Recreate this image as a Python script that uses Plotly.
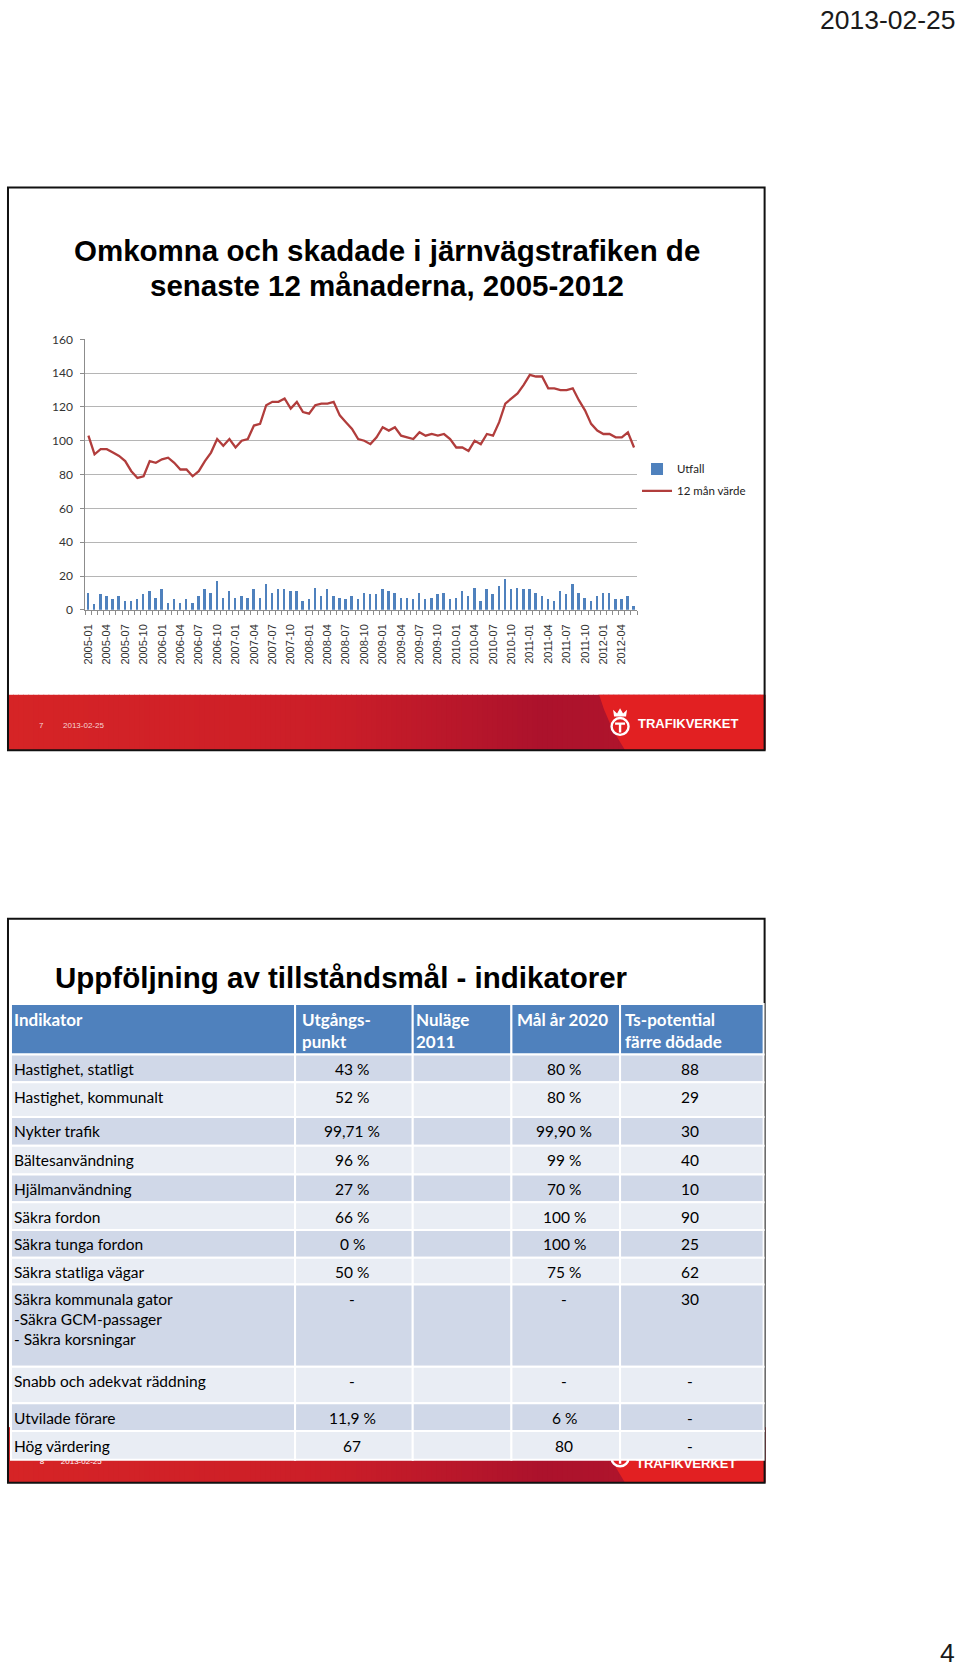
import plotly.graph_objects as go

W, H = 960, 1672

# ---------------- chart data (slide 1) ----------------
months = [f"{y}-{m:02d}" for y in range(2005, 2013) for m in range(1, 13)][:90]
utfall = [10, 3, 9, 8, 6, 8, 5, 5, 6, 9,
          11, 7, 12, 4, 6, 4, 6, 4, 8, 12,
          10, 17, 7, 11, 7, 8, 7, 12, 7, 15,
          10, 12, 12, 11, 11, 5, 6, 13, 8, 12,
          8, 7, 6, 8, 6, 10, 9, 9, 12, 11,
          10, 7, 7, 6, 10, 6, 7, 9, 10, 6,
          7, 11, 8, 13, 5, 12, 9, 14, 18, 12,
          13, 12, 12, 10, 8, 6, 5, 11, 9, 15,
          10, 7, 5, 8, 10, 10, 6, 6, 8, 2]
man12 = [103, 92, 95, 95, 93, 91, 88, 82, 78, 79,
         88, 87, 89, 90, 87, 83, 83, 79, 82, 88,
         93, 101, 97, 101, 96, 100, 101, 109, 110, 121,
         123, 123, 125, 119, 123, 117, 116, 121, 122, 122,
         123, 115, 111, 107, 101, 100, 98, 102, 108, 106,
         108, 103, 102, 101, 105, 103, 104, 103, 104, 101,
         96, 96, 94, 100, 98, 104, 103, 111, 122, 125,
         128, 133, 139, 138, 138, 131, 131, 130, 130, 131,
         124, 118, 110, 106, 104, 104, 102, 102, 105, 96]
tick_labels = months[::3]

# ---------------- table data (slide 2) ----------------
headers = ["Indikator", "Utgångs-<br>punkt", "Nuläge<br>2011", "Mål år 2020", "Ts-potential<br>färre dödade"]
indikator = ["Hastighet, statligt", "Hastighet, kommunalt", "Nykter trafik", "Bältesanvändning",
             "Hjälmanvändning", "Säkra fordon", "Säkra tunga fordon", "Säkra statliga vägar",
             "Säkra kommunala gator<br>-Säkra GCM-passager<br>- Säkra korsningar",
             "Snabb och adekvat räddning", "Utvilade förare", "Hög värdering"]
utgangspunkt = ["43 %", "52 %", "99,71 %", "96 %", "27 %", "66 %", "0 %", "50 %", "-", "-", "11,9 %", "67"]
nulage_2011 = ["", "", "", "", "", "", "", "", "", "", "", ""]
mal_2020 = ["80 %", "80 %", "99,90 %", "99 %", "70 %", "100 %", "100 %", "75 %", "-", "-", "6 %", "80"]
ts_potential = ["88", "29", "30", "40", "10", "90", "25", "62", "30", "-", "-", "-"]
table_cols = [indikator, utgangspunkt, nulage_2011, mal_2020, ts_potential]

# ---------------- layout constants (pixels) ----------------
col_edges = [8, 293, 411, 510, 619, 763]
row_edges = [1005, 1056, 1084, 1119, 1148, 1177, 1205, 1233, 1261, 1288, 1371, 1408, 1436, 1465]
header_left_pad = [1, 5, 1, 4, 3]


def px(x):
    return x / W


def py(y):
    return 1 - y / H


shapes = []
annotations = []


def rect(x0, y0, x1, y1, fill, line_color=None, line_width=0, layer="below"):
    shapes.append(dict(type="rect", xref="paper", yref="paper",
                       x0=px(x0), x1=px(x1), y0=py(y1), y1=py(y0),
                       fillcolor=fill, layer=layer,
                       line=dict(color=line_color or fill, width=line_width)))


def text(t, x, y, size, color="black", family="Liberation Sans", bold=False,
         xanchor="left", yanchor="middle"):
    if bold:
        t = f"<b>{t}</b>"
    annotations.append(dict(text=t, x=px(x), y=py(y), xref="paper", yref="paper",
                            xanchor=xanchor, yanchor=yanchor, showarrow=False,
                            align="left" if xanchor == "left" else "center",
                            font=dict(size=size, color=color, family=family)))


def lerp(c0, c1, t):
    return tuple(int(round(a + (b - a) * t)) for a, b in zip(c0, c1))


grad_stops = [(5, (214, 36, 38)), (330, (203, 30, 40)), (540, (172, 18, 44)),
              (620, (175, 20, 44)), (764, (190, 24, 42))]


def footer_band(y0, y1):
    n = 150
    x_start, x_end = 5, 764
    step = (x_end - x_start) / n
    for i in range(n):
        xa = x_start + i * step
        xm = xa + step / 2
        for (s0, c0), (s1, c1) in zip(grad_stops[:-1], grad_stops[1:]):
            if s0 <= xm <= s1:
                col = lerp(c0, c1, (xm - s0) / (s1 - s0))
                break
        rect(xa, y0, xa + step + 1.0, y1, "rgb(%d,%d,%d)" % col)
    # bright curved section on the right
    xa, xb = 598, 764
    shapes.append(dict(type="path", xref="paper", yref="paper", layer="below",
                       path=f"M {px(xa)},{py(y0)} Q {px(xa + 8)},{py((y0 + y1) / 2)} {px(xa + 26)},{py(y1)} "
                            f"L {px(xb)},{py(y1)} L {px(xb)},{py(y0)} Z",
                       fillcolor="rgb(226,32,34)", line=dict(width=0)))


def logo(cx, cy):
    shapes.append(dict(type="circle", xref="paper", yref="paper", layer="below",
                       x0=px(cx - 8.5), x1=px(cx + 8.5), y0=py(cy + 8.5), y1=py(cy - 8.5),
                       line=dict(color="white", width=2.4), fillcolor="rgba(0,0,0,0)"))
    shapes.append(dict(type="path", xref="paper", yref="paper", layer="below",
                       path=f"M {px(cx-5)},{py(cy-4)} L {px(cx+5)},{py(cy-4)} L {px(cx+5)},{py(cy-1.8)} "
                            f"L {px(cx+1.2)},{py(cy-1.8)} L {px(cx+1.2)},{py(cy+6)} L {px(cx-1.2)},{py(cy+6)} "
                            f"L {px(cx-1.2)},{py(cy-1.8)} L {px(cx-5)},{py(cy-1.8)} Z",
                       fillcolor="white", line=dict(width=0)))
    shapes.append(dict(type="path", xref="paper", yref="paper", layer="below",
                       path=f"M {px(cx-6)},{py(cy-10)} L {px(cx-7)},{py(cy-17)} L {px(cx-3)},{py(cy-13)} "
                            f"L {px(cx)},{py(cy-18.5)} L {px(cx+3)},{py(cy-13)} L {px(cx+7)},{py(cy-17)} "
                            f"L {px(cx+6)},{py(cy-10)} Z",
                       fillcolor="white", line=dict(width=0)))


# ---------------- slide 1 ----------------
footer_band(693, 749)
logo(619, 725)
rect(5, 181, 764, 749, "rgba(0,0,0,0)", "#111111", 2)
text("Omkomna och skadade i järnvägstrafiken de", 385.6, 245, 29.5, bold=True, xanchor="center")
text("senaste 12 månaderna, 2005-2012", 385.6, 280.5, 29.5, bold=True, xanchor="center")
text("7", 39, 724, 8, color="#F6D6D6", xanchor="center")
text("2013-02-25", 58, 724, 8, color="#F6D6D6")
text("TRAFIKVERKET", 635, 722, 13, color="white", family="Liberation Sans", bold=True)

# ---------------- slide 2 ----------------
footer_band(1432, 1488)
logo(619, 1463)
rect(5, 919, 764, 1488, "rgba(0,0,0,0)", "#111111", 2)
text("Uppföljning av tillståndsmål - indikatorer", 50, 978, 29.5, bold=True)

body_fs = 15.5
head_fs = 17
tfam = "Lato, Carlito, Liberation Sans"
for c in range(5):
    x0, x1 = col_edges[c], col_edges[c + 1]
    rect(x0, row_edges[0], x1, row_edges[1], "#4F81BD", "white", 2, layer="above")
    lh = 1.3 * head_fs
    text(headers[c], x0 + header_left_pad[c], row_edges[0] + 15 - lh / 2 - 1, head_fs, color="white",
         family=tfam, bold=True, yanchor="top")
for r in range(len(indikator)):
    y0, y1 = row_edges[r + 1], row_edges[r + 2]
    fill = "#D0D8E8" if r % 2 == 0 else "#E9EDF4"
    lh = 1.3 * body_fs
    ytop = y0 + 14.5 - lh / 2 - 1
    for c in range(5):
        x0, x1 = col_edges[c], col_edges[c + 1]
        rect(x0, y0, x1, y1, fill, "white", 2, layer="above")
        val = table_cols[c][r]
        if not val:
            continue
        if c == 0:
            text(val, x0 + 1, ytop, body_fs, family=tfam, yanchor="top")
        else:
            text(val, (x0 + x1) / 2 - 1.5, ytop, body_fs, family=tfam, xanchor="center", yanchor="top")

# ---------------- page texts ----------------
text("2013-02-25", 958, 12, 26.5, color="#1a1a1a", xanchor="right")
text("4", 957, 1660, 26.5, color="#1a1a1a", xanchor="right")

# ---------------- traces ----------------
idx = list(range(len(months)))
fig = go.Figure()
fig.add_trace(go.Bar(x=idx, y=utfall, name="Utfall", width=0.4,
                     marker=dict(color="#4F81BD", line=dict(width=0)),
                     legendgroup="a"))
fig.add_trace(go.Scatter(x=idx, y=man12, name="12 mån värde", mode="lines",
                         line=dict(color="#B13D3C", width=2.3), legendgroup="b"))
# slide-2 footer texts, mostly hidden behind the table
fig.add_trace(go.Scatter(x=[39, 58, 635], y=[1467.5, 1467.5, 1469.5], mode="text",
                         text=["8", "2013-02-25", "<b>TRAFIKVERKET</b>"],
                         textposition=["middle center", "middle right", "middle right"],
                         textfont=dict(size=[8, 8, 13], color="white", family="Liberation Sans"),
                         xaxis="x2", yaxis="y2", showlegend=False, hoverinfo="skip"))

axis_gray = "#8C8C8C"
fig.update_layout(
    width=W, height=H, autosize=False,
    margin=dict(l=0, r=0, t=0, b=0),
    paper_bgcolor="white", plot_bgcolor="rgba(0,0,0,0)",
    bargap=0,
    xaxis=dict(domain=[82.6 / W, 636.1 / W], range=[-0.5, 89.5],
               tickmode="array", tickvals=idx[::3], ticktext=tick_labels,
               tickangle=-90, ticks="", ticklabelstandoff=9,
               tickfont=dict(family="Liberation Sans", size=11, color="#333333"),
               showgrid=False, zeroline=False, showline=True, linecolor=axis_gray, linewidth=1,
               minor=dict(tickmode="linear", tick0=-0.5, dtick=1, ticks="outside",
                          ticklen=4, tickcolor=axis_gray, tickwidth=1, showgrid=False)),
    yaxis=dict(domain=[py(607.3), py(334.3)], range=[0, 160], tickmode="linear", tick0=0, dtick=20,
               showgrid=True, gridcolor="#B5B5B5", gridwidth=1, zeroline=False,
               showline=True, linecolor=axis_gray, linewidth=1,
               ticks="outside", ticklen=4, tickcolor=axis_gray, ticklabelstandoff=5,
               tickfont=dict(family="Lato, Liberation Sans", size=12, color="#333333")),
    xaxis2=dict(domain=[0, 1], range=[0, W], visible=False, fixedrange=True),
    yaxis2=dict(domain=[0, 1], range=[H, 0], visible=False, fixedrange=True),
    legend=dict(x=px(636), y=py(450.5), xanchor="left", yanchor="top",
                bgcolor="rgba(0,0,0,0)", tracegroupgap=3,
                font=dict(family="Lato, Liberation Sans", size=11.5, color="#222222")),
    showlegend=True,
    shapes=shapes,
    annotations=annotations,
)

post = ("document.documentElement.style.margin='0';document.body.style.margin='0';"
        "document.body.style.padding='0';document.body.style.overflow='hidden';"
        "var gd=document.getElementById('{plot_id}');gd.style.position='absolute';"
        "gd.style.left='0px';gd.style.top='0px';")
fig.write_html("out.html", post_script=post, config={"displayModeBar": False})
